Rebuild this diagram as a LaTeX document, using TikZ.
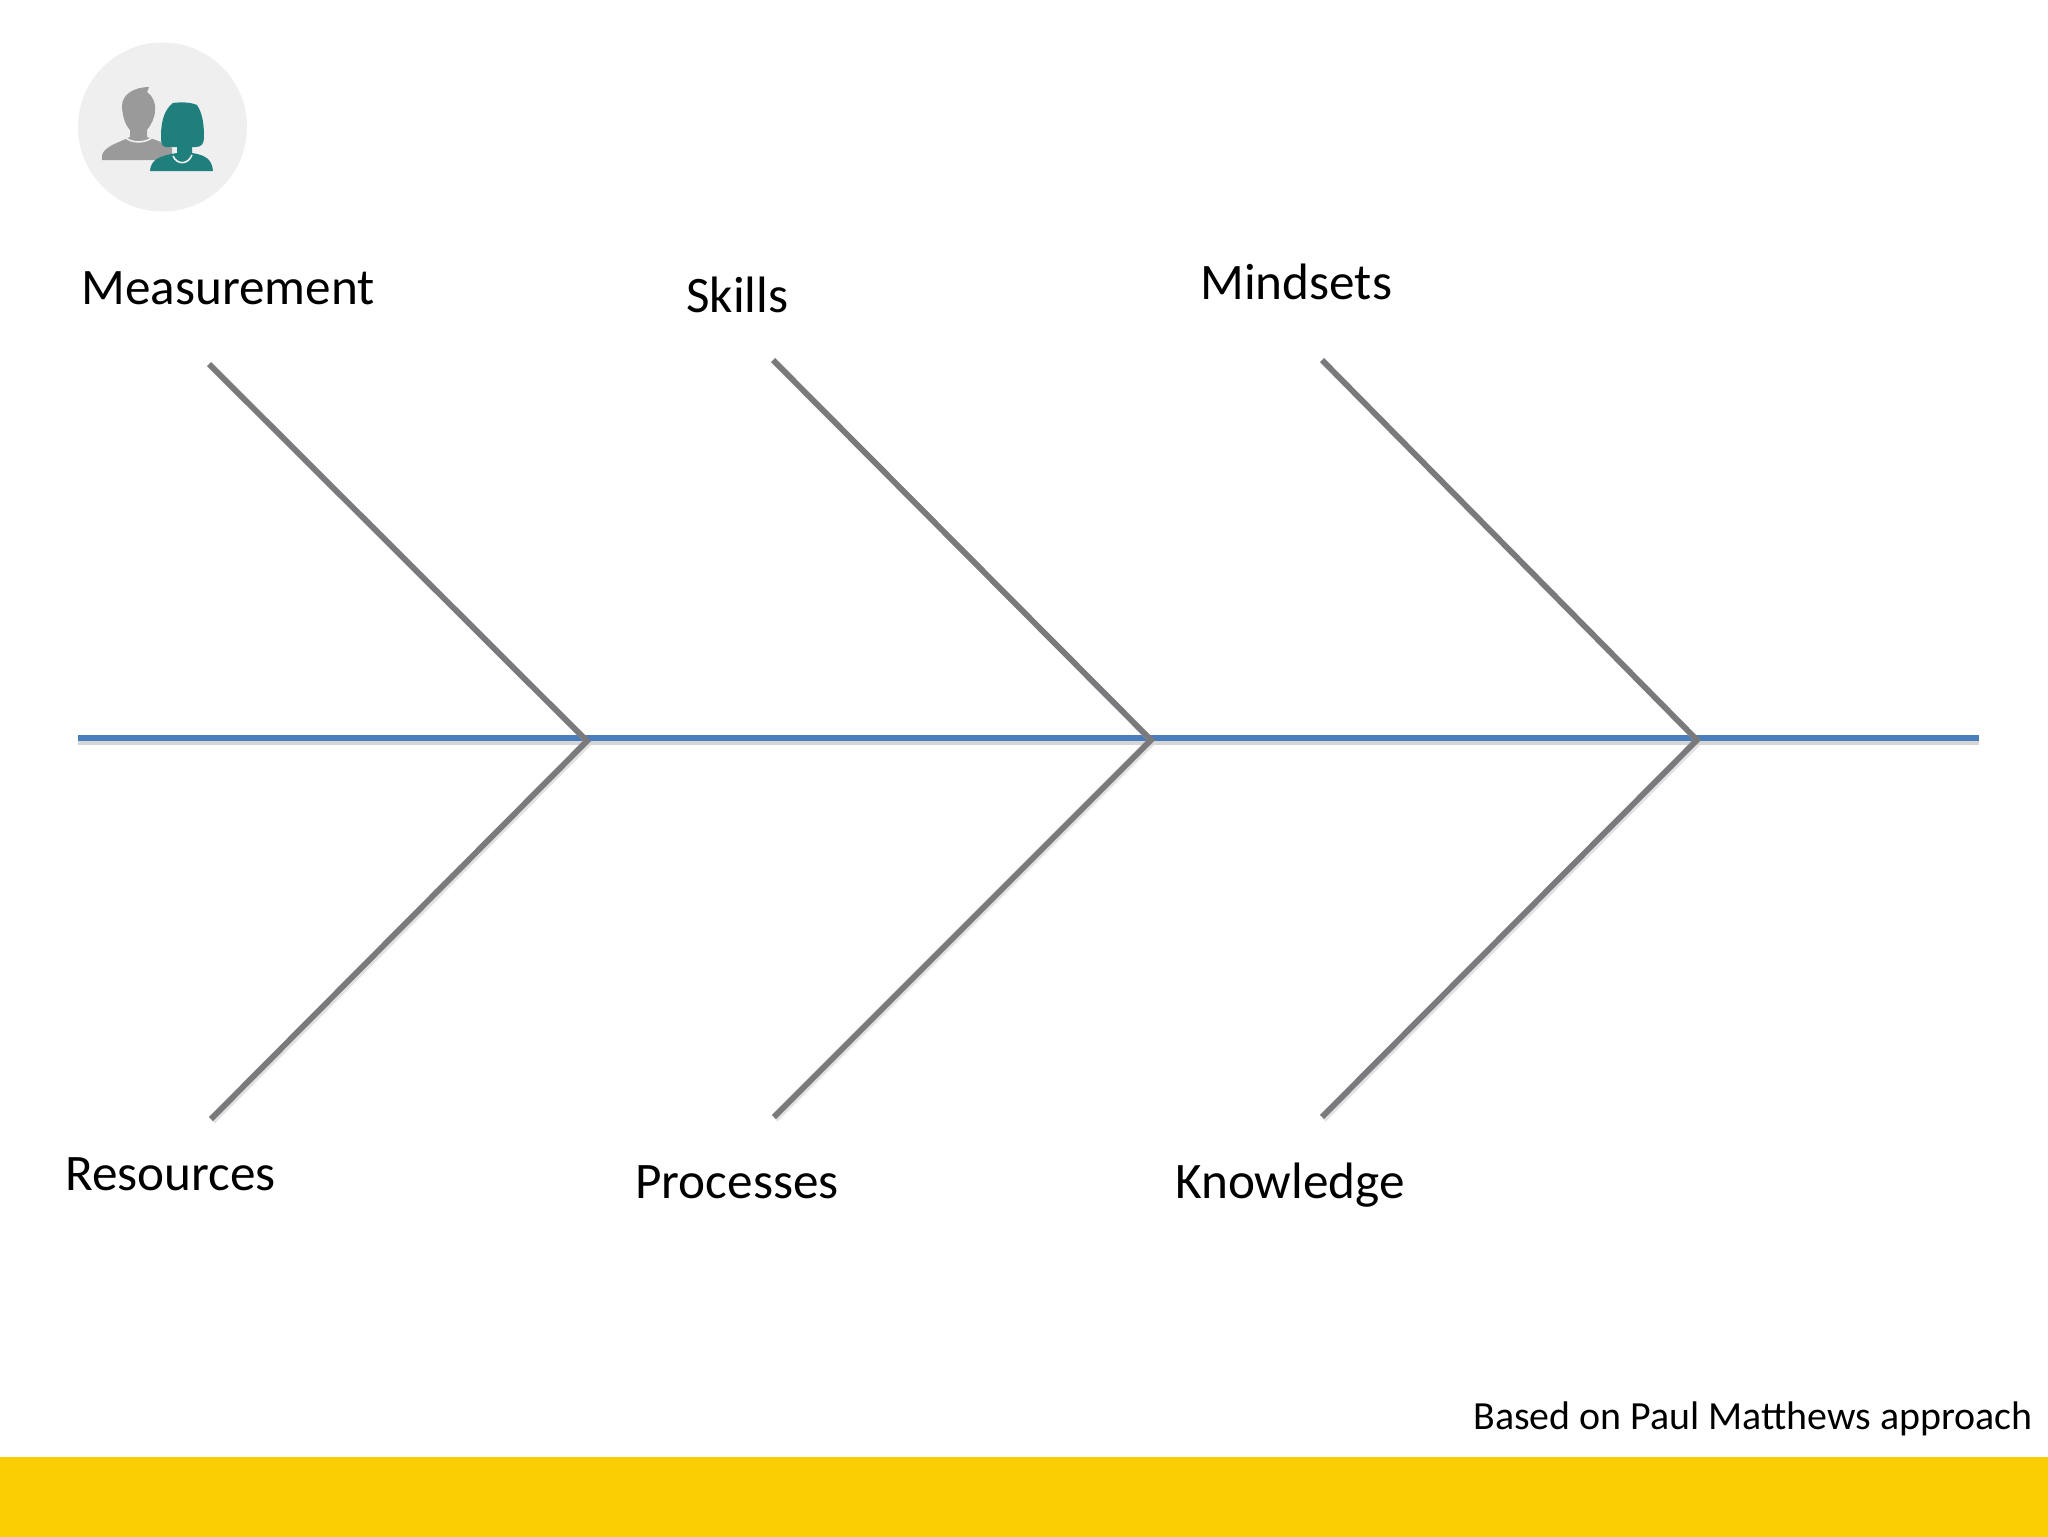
\documentclass[tikz,border=0pt]{standalone}
\usepackage{fontspec}
\setmainfont{Carlito}
\definecolor{spineblue}{HTML}{4A7EBB}
\definecolor{bonegrey}{HTML}{7A7A7C}
\definecolor{shade}{HTML}{D6D6D8}
\definecolor{baryellow}{HTML}{FBCE04}
\definecolor{discgrey}{HTML}{EFEFF0}
\definecolor{mangrey}{HTML}{9A9A9A}
\definecolor{womanteal}{HTML}{1F7F7C}
\tikzset{
  bone/.style={draw=bonegrey,line width=2.9pt,line cap=butt},
  boneshade/.style={draw=shade,line width=2.4pt,opacity=.7},
  spine/.style={draw=spineblue,line width=2.8pt},
  spineshade/.style={draw=shade,line width=2.6pt},
  lab/.style={anchor=base west,inner sep=0pt,font=\fontsize{25.6pt}{30pt}\selectfont,text=black},
  foot/.style={anchor=base west,inner sep=0pt,font=\fontsize{19.95pt}{24pt}\selectfont,text=black}
}
\begin{document}
\begin{tikzpicture}[x=0.5pt,y=-0.5pt]
\useasboundingbox (0,0) rectangle (2048,1536);
\fill[white] (0,0) rectangle (2048,1536);
\fill[baryellow] (0,1457) rectangle (2048,1537);

% icon
\fill[discgrey] (162.5,127) circle (84.5);
\fill[mangrey] (102,160) -- (102,155) .. controls (105,146) and (118,143) .. (130,137)
  -- (130,130) .. controls (124,124) and (122,112) .. (122,106)
  .. controls (122,94) and (135,87) .. (149,87) -- (147,92)
  .. controls (153,96) and (156,104) .. (155,110)
  .. controls (155,118) and (151,125) .. (147,130) -- (147,137)
  .. controls (156,140) and (165,143) .. (172,148) -- (172,160) -- cycle;
\draw[discgrey,line width=.8pt] (125,137) .. controls (130,143) and (145,144) .. (153,137);
\fill[womanteal] (150,171) .. controls (151,160) and (158,156) .. (177,153)
  -- (177,147) -- (166,147) .. controls (162,147) and (161,143) .. (161,136)
  .. controls (161,120) and (165,109) .. (173,103)
  .. controls (180,102) and (190,102) .. (197,105)
  .. controls (203,114) and (204,126) .. (204,137)
  .. controls (204,143) and (202,147) .. (196,147)
  -- (192,147) -- (192,153) .. controls (205,155) and (212,159) .. (213,171) -- cycle;
\draw[discgrey,line width=.8pt] (173,156) .. controls (177,165) and (188,165) .. (192,155);

% spine
\coordinate (tail) at (78,738);
\coordinate (head) at (1979,738);
\draw[spineshade] ([yshift=-2pt]tail) -- ([yshift=-2pt]head);
\draw[spine] (tail) -- (head);

% joints and bone ends
\coordinate (j1) at (587,741);
\coordinate (j2) at (1151,740);
\coordinate (j3) at (1697,740);
\coordinate (t1) at (209,364);
\coordinate (t2) at (773,360);
\coordinate (t3) at (1322,360);
\coordinate (b1) at (211,1119);
\coordinate (b2) at (774,1117);
\coordinate (b3) at (1322,1117);

\foreach \e/\j in {t1/j1,t2/j2,t3/j3,b1/j1,b2/j2,b3/j3}{
  \draw[boneshade] ([shift={(1pt,-1.4pt)}]\e) -- ([shift={(1pt,-1.4pt)}]\j);
}
\draw[bone,line join=miter] (t1) -- (j1) -- (b1);
\draw[bone,line join=miter] (t2) -- (j2) -- (b2);
\draw[bone,line join=miter] (t3) -- (j3) -- (b3);

% labels
\node[lab] (measurement) at (81,304) {Measurement};
\node[lab] (skills) at (686,312) {Skills};
\node[lab] (mindsets) at (1200,299) {Mindsets};
\node[lab] (resources) at (65,1190) {Resources};
\node[lab] (processes) at (635,1198) {Processes};
\node[lab] (knowledge) at (1175,1198) {Knowledge};
\node[foot] (basis) at (1473,1429) {Based on Paul Matthews approach};
\end{tikzpicture}
\end{document}
